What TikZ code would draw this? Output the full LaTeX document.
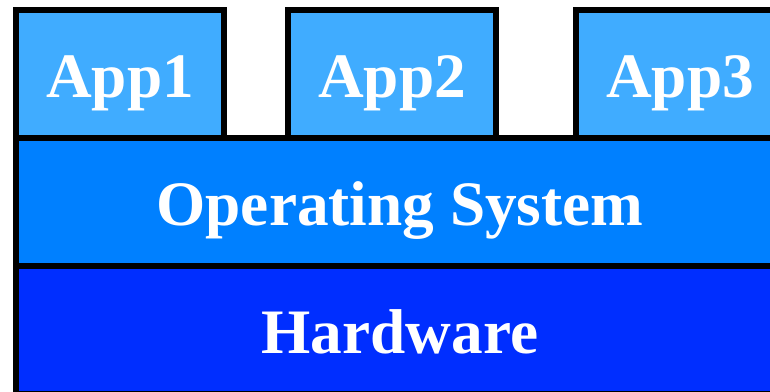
\documentclass[tikz,border=0pt]{standalone}
\usepackage{fontspec}
\setmainfont{Liberation Serif}
\usepackage{xcolor}
\usetikzlibrary{positioning}
\definecolor{appblue}{RGB}{64,172,255}
\definecolor{osblue}{RGB}{0,128,255}
\definecolor{hwblue}{RGB}{0,46,255}
\tikzset{
  layer/.style={draw=black, line width=1.7pt, rectangle, inner sep=0pt,
    minimum height=1.28cm, text=white, text height=0.46cm, text depth=0cm,
    font=\fontsize{18}{18}\selectfont\bfseries},
  appbox/.style={layer, fill=appblue, minimum width=2.08cm},
}
\begin{document}
\begin{tikzpicture}[x=0.01cm, y=-0.01cm]
          \useasboundingbox (0,0) rectangle (770,391);
          \clip (0,0) rectangle (770,391);

          % Hardware and OS layers
          \node[layer, fill=hwblue, minimum width=7.68cm] (hw) at (400,330) {Hardware};
          \node[layer, fill=osblue, minimum width=7.68cm] (os) at (400,202) {Operating System};

          % Apps on top
          \foreach \i/\x in {1/120, 2/392, 3/680} {
              \node[appbox] (app\i) at (\x,74) {App\i};
          }
      \end{tikzpicture}
\end{document}
